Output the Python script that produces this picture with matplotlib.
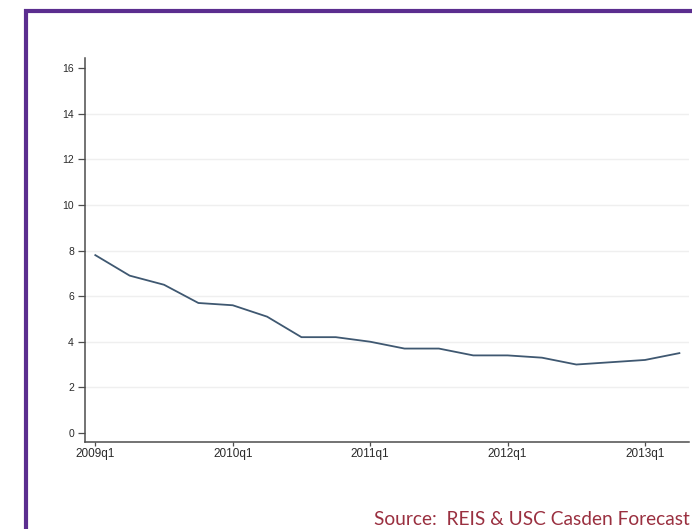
import matplotlib
matplotlib.use("Agg")
from matplotlib import pyplot as plt
from matplotlib.lines import Line2D

# quarterly series, 2009q1 .. 2013q2
quarters = ["2009q1", "2009q2", "2009q3", "2009q4",
            "2010q1", "2010q2", "2010q3", "2010q4",
            "2011q1", "2011q2", "2011q3", "2011q4",
            "2012q1", "2012q2", "2012q3", "2012q4",
            "2013q1", "2013q2"]
values = [7.8, 6.9, 6.5, 5.7,
          5.6, 5.1, 4.2, 4.2,
          4.0, 3.7, 3.7, 3.4,
          3.4, 3.3, 3.0, 3.1,
          3.2, 3.5]
x_tick_labels = ["2009q1", "2010q1", "2011q1", "2012q1", "2013q1"]
y_ticks = [0, 2, 4, 6, 8, 10, 12, 14, 16]
source_text = "Source:  REIS & USC Casden Forecast"

plt.rcParams["font.family"] = ["Liberation Sans", "DejaVu Sans"]

fig = plt.figure(figsize=(6.92, 5.29), dpi=100)
fig.patch.set_facecolor("white")

ax = fig.add_axes([85 / 692, 1 - 442 / 529, (689 - 85) / 692, (442 - 58) / 529])

xs = list(range(len(quarters)))
ax.plot(xs, values, color="#3f5871", linewidth=1.3, solid_joinstyle="round")

ax.set_xlim(-0.3, 17.28)
ax.set_ylim(-0.4, 16.45)

ax.set_xticks([quarters.index(q) for q in x_tick_labels])
ax.set_xticklabels(x_tick_labels)
ax.set_yticks(y_ticks)
ax.set_yticklabels([str(v) for v in y_ticks])

for v in y_ticks[1:-1]:
    ax.axhline(v, color="#efefef", linewidth=1.0, zorder=0)

for side in ["top", "right"]:
    ax.spines[side].set_visible(False)
for side in ["left", "bottom"]:
    ax.spines[side].set_color("#4d4d4d")
    ax.spines[side].set_linewidth(1.1)

ax.tick_params(axis="both", direction="out", width=0.9,
               color="#4d4d4d", labelcolor="#2a2a2a")
ax.tick_params(axis="y", labelsize=7.5, length=5, pad=3)
ax.tick_params(axis="x", labelsize=8.5, length=3, pad=1)

# purple frame, cut off at the right and bottom edges
purple = "#5b2e8f"
fig.add_artist(Line2D([26 / 692, 26 / 692], [0, 1 - 9 / 529], transform=fig.transFigure,
                      color=purple, linewidth=3.0, solid_capstyle="butt"))
fig.add_artist(Line2D([24 / 692, 1], [1 - 11 / 529, 1 - 11 / 529], transform=fig.transFigure,
                      color=purple, linewidth=3.0, solid_capstyle="butt"))

fig.text(690 / 692, 1 - 525 / 529, source_text, ha="right", va="baseline",
         fontsize=13.8, color="#9a3040", family=["Lato", "DejaVu Sans"])

plt.savefig("out.png", dpi=100, facecolor="white")
plt.close()
